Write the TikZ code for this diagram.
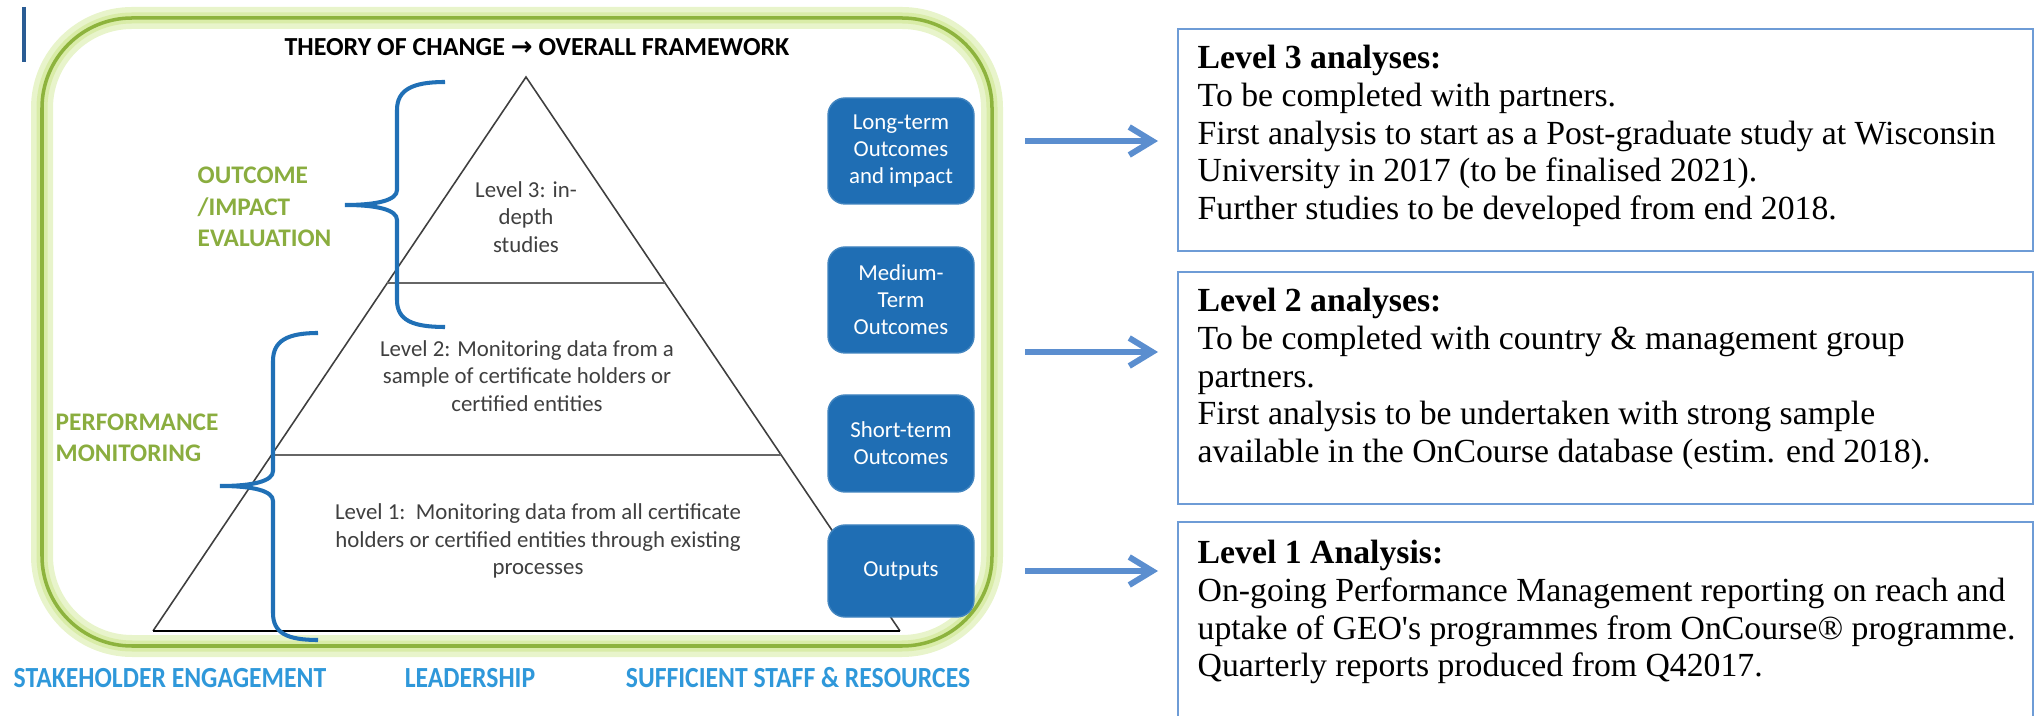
\documentclass[tikz,border=0pt]{standalone}
\usepackage{fontspec}
\setmainfont{Carlito}
\newfontfamily\notefont{Liberation Serif}
\newfontfamily\footfont[FakeStretch=0.88]{Carlito}
\newfontfamily\symbolfont{DejaVu Sans}
\usepackage{xcolor}
\usetikzlibrary{calc}
\usetikzlibrary{arrows.meta}
\definecolor{framegreen}{HTML}{8DB33D}
\definecolor{glowgreen}{HTML}{D9ECA8}
\definecolor{labelgreen}{HTML}{8AAD3F}
\definecolor{boxblue}{HTML}{1F6EB4}
\definecolor{bracketblue}{HTML}{2070B6}
\definecolor{arrowblue}{HTML}{5B8ECF}
\definecolor{noteblue}{HTML}{6E9CD6}
\definecolor{footblue}{HTML}{2F98DA}
\definecolor{tickblue}{HTML}{2A5C94}
\definecolor{pyrgray}{HTML}{3F3F3F}
\tikzstyle{outbox} = [fill=boxblue, draw=boxblue!85!white, rounded corners=1.7mm,
minimum width=14.6mm, inner sep=0pt, text=white, align=center,
font=\fontsize{6.5}{7.7}\selectfont]
\tikzstyle{notebox} = [draw=noteblue, line width=0.7pt, minimum width=85.5mm,
anchor=north west, inner sep=0pt]
\tikzstyle{notetext} = [anchor=north west, inner sep=0pt, align=left,
font=\notefont\fontsize{9.6}{10.8}\selectfont]
\tikzstyle{leveltext} = [align=center, text=pyrgray, font=\fontsize{6.5}{7.9}\selectfont]
\tikzstyle{sidelabel} = [anchor=west, align=left, inner sep=0pt, text=labelgreen,
font=\bfseries\fontsize{7.2}{8.9}\selectfont]
\tikzstyle{footlabel} = [text=footblue, inner sep=0pt, font=\footfont\bfseries\fontsize{8.3}{9}\selectfont]
\tikzstyle{flowarrow} = [draw=arrowblue, line width=1.7pt, shorten >=1.9mm,
-{Straight Barb[length=2.3mm, width=2.8mm]}]
\tikzstyle{levelbrace} = [draw=bracketblue, line width=1.15pt]
\begin{document}
\begin{tikzpicture}[x=0.1mm, y=-0.1mm]
        \useasboundingbox (0,0) rectangle (2034,716);
        \draw[tickblue, line width=1.1pt] (24,7) -- (24,62);
        % framework frame with glow
        \draw[glowgreen!60, line width=2.2mm, rounded corners=9mm] (42,18) rectangle (992,646);
        \draw[glowgreen, line width=1.1mm, rounded corners=9mm] (42,18) rectangle (992,646);
        \draw[framegreen, line width=1pt, rounded corners=9mm] (42,18) rectangle (992,646);
        \node[font=\bfseries\fontsize{7.4}{8}\selectfont] (title) at (537,47)
            {THEORY OF CHANGE {\symbolfont\bfseries →} OVERALL FRAMEWORK};
        % pyramid
        \coordinate (apex) at (526,77);
        \coordinate (baseL) at (153,631);
        \coordinate (baseR) at (900,631);
        \draw[pyrgray, line width=0.45pt] (baseL) -- (apex) -- (baseR);
        \draw[black, line width=0.7pt] (baseL) -- (baseR);
        \draw[gray!80!black, line width=0.8pt] ($(apex)!0.3718!(baseL)$) -- ($(apex)!0.3718!(baseR)$);
        \draw[gray!80!black, line width=0.8pt] ($(apex)!0.6823!(baseL)$) -- ($(apex)!0.6823!(baseR)$);
        \node[leveltext] (lvthree) at (526,217) {Level 3: in-\\depth\\studies};
        \node[leveltext] (lvtwo) at (527,376) {Level 2: Monitoring data from a\\sample of certificate holders or\\certified entities};
        \node[leveltext] (lvone) at (538,541) {Level 1:\ \ Monitoring data from all certificate\\holders or certified entities through existing\\processes};
        % braces and side labels
        \draw[levelbrace] (445,82) .. controls (412,82) and (397,90) .. (397,110) -- (397,190)
            .. controls (397,200) and (378,205) .. (345,205) .. controls (378,205) and (397,210) .. (397,220)
            -- (397,300) .. controls (397,320) and (412,327) .. (445,327);
        \draw[levelbrace] (318,333) .. controls (287,333) and (273,341) .. (273,361) -- (273,471)
            .. controls (273,481) and (254,486) .. (220,486) .. controls (254,486) and (273,491) .. (273,501)
            -- (273,613) .. controls (273,633) and (287,640) .. (318,640);
        \node[sidelabel] (impact) at (197,207) {OUTCOME\\/IMPACT\\EVALUATION};
        \node[sidelabel] (monitor) at (55,438) {PERFORMANCE\\MONITORING};
        % result chain
        \node[outbox, minimum height=10.6mm] (longterm) at (901,151) {Long-term\\Outcomes\\and impact};
        \node[outbox, minimum height=10.6mm] (medterm) at (901,300) {Medium-\\Term\\Outcomes};
        \node[outbox, minimum height=9.7mm] (shortterm) at (901,443.5) {Short-term\\Outcomes};
        \node[outbox, minimum height=9.2mm] (outputs) at (901,571) {Outputs};
        \node[footlabel] (stake) at (170,678) {STAKEHOLDER ENGAGEMENT};
        \node[footlabel] (lead) at (470,678) {LEADERSHIP};
        \node[footlabel] (staff) at (798,678) {SUFFICIENT STAFF \& RESOURCES};
        % analysis notes
        \node[notebox, minimum height=22.2mm] (notethree) at (1177,28) {};
        \node[notebox, minimum height=23.2mm] (notetwo) at (1177,271) {};
        \node[notebox, minimum height=21mm] (noteone) at (1177,521) {};
        \node[notetext] (txtthree) at (1197,44) {\textbf{Level 3 analyses:}\\
            To be completed with partners.\\
            First analysis to start as a Post-graduate study at Wisconsin\\
            University in 2017 (to be finalised 2021).\\
            Further studies to be developed from end 2018.};
        \node[notetext] (txttwo) at (1197,287) {\textbf{Level 2 analyses:}\\
            To be completed with country \& management group\\
            partners.\\
            First analysis to be undertaken with strong sample\\
            available in the OnCourse database (estim. end 2018).};
        \node[notetext] (txtone) at (1197,539) {\textbf{Level 1 Analysis:}\\
            On-going Performance Management reporting on reach and\\
            uptake of GEO\textquotesingle s programmes from OnCourse® programme.\\
            Quarterly reports produced from Q42017.};
        \coordinate (arrthree) at (1025,141);
        \coordinate (arrtwo) at (1025,352);
        \coordinate (arrone) at (1025,571);
        \draw[flowarrow] (arrthree) -- (arrthree -| notethree.west);
        \draw[flowarrow] (arrtwo) -- (arrtwo -| notetwo.west);
        \draw[flowarrow] (arrone) -- (arrone -| noteone.west);
    \end{tikzpicture}
\end{document}
